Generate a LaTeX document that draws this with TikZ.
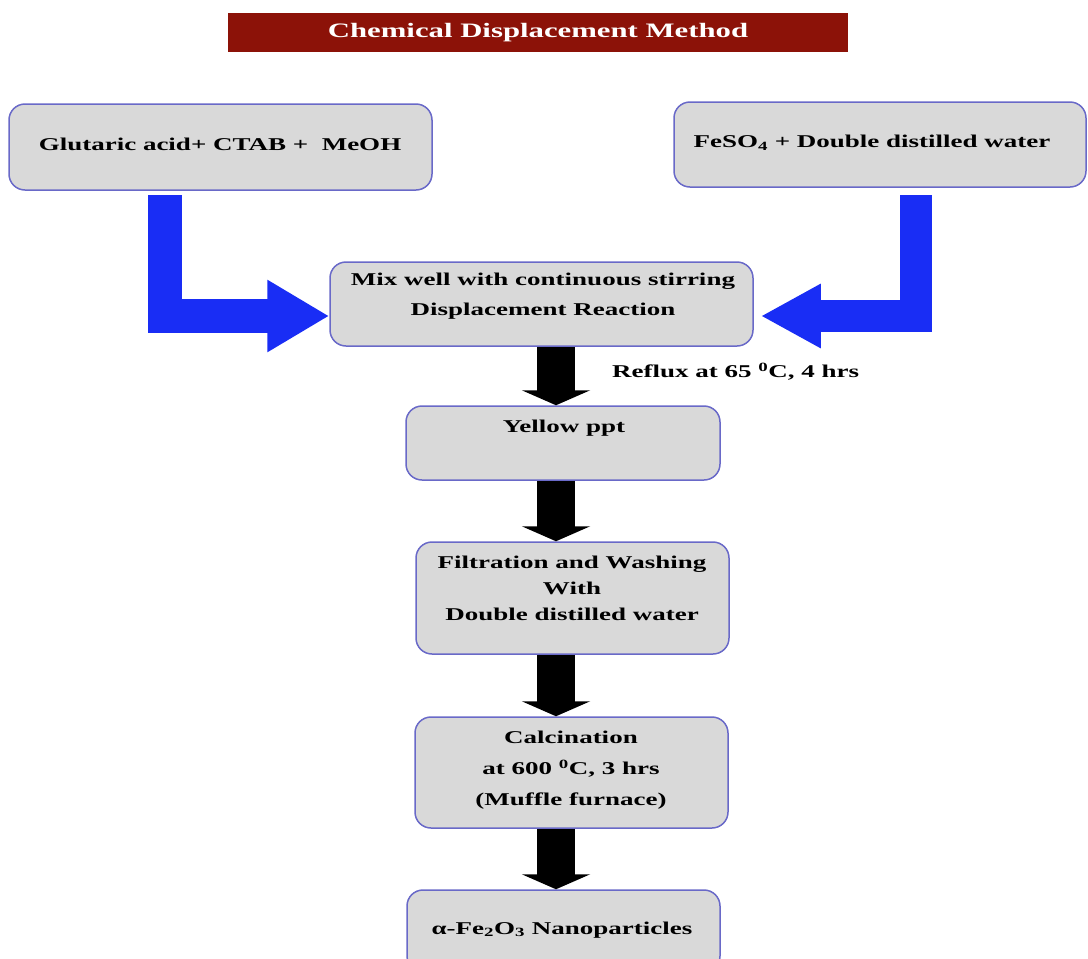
\documentclass[tikz,border=0pt]{standalone}
\usepackage{fontspec}
\setmainfont{Liberation Serif}
\newfontfamily\boxfont[FakeStretch=1.5]{Liberation Serif}
\usepackage{tikz}
\usetikzlibrary{arrows.meta}
\definecolor{boxgray}{RGB}{217,217,217}
\definecolor{boxline}{RGB}{105,105,200}
\definecolor{titlered}{RGB}{140,18,8}
\definecolor{arrblue}{RGB}{25,45,245}

\begin{document}
\begin{tikzpicture}[x=1pt,y=-1pt,line join=miter]
    \tikzstyle{box}=[draw=boxline,line width=1.5pt,fill=boxgray,rounded corners=16pt,inner sep=0pt]
    \tikzstyle{txt}=[font=\boxfont\bfseries\fontsize{18}{26}\selectfont,align=center,inner sep=0pt]
    \tikzstyle{bluearr}=[draw=arrblue,line width=34pt,-{Triangle[length=62pt,width=68pt]}]
    \tikzstyle{blkarr}=[draw=black,line width=38pt,-{Triangle[length=15pt,width=68pt]}]
    \useasboundingbox (0,0) rectangle (1088,959);
    % title bar
    \node[fill=titlered,minimum width=620pt,minimum height=39pt,inner sep=0pt,text=white,
        font=\boxfont\bfseries\fontsize{20.5}{22}\selectfont] (title) at (538,32.5) {Chemical Displacement Method};
    % boxes
    \node[box,minimum width=423pt,minimum height=86pt] (glu) at (220.5,147) {};
    \node[box,minimum width=412pt,minimum height=85pt] (feso) at (880,144.5) {};
    \node[box,minimum width=423pt,minimum height=84pt] (mix) at (541.5,304) {};
    \node[box,minimum width=314pt,minimum height=74pt] (yel) at (563,443) {};
    \node[box,minimum width=313pt,minimum height=112pt] (filt) at (572.5,598) {};
    \node[box,minimum width=313pt,minimum height=111pt] (calc) at (571.5,772.5) {};
    \node[box,minimum width=313pt,minimum height=82pt] (fin) at (563.5,931) {};
    % texts
    \node[txt] (glutx) at (220,144) {Glutaric acid+ CTAB + \ MeOH};
    \node[txt] (fesotx) at (872,143) {FeSO\textsubscript{4} + Double distilled water};
    \node[txt] (mixtx) at (543,296) {Mix well with continuous stirring\\[4pt]Displacement Reaction};
    \node[txt,anchor=west] (reftx) at (612,372) {Reflux at 65 \textsuperscript{0}C, 4 hrs};
    \node[txt] (yeltx) at (564,428) {Yellow ppt};
    \node[txt] (filttx) at (572,588) {Filtration and Washing\\With\\Double distilled water};
    \node[txt] (calctx) at (571,770) {Calcination\\[5pt]at 600 \textsuperscript{0}C, 3 hrs\\[5pt](Muffle furnace)};
    \node[txt] (fintx) at (562,930) {α-Fe\textsubscript{2}O\textsubscript{3} Nanoparticles};
    % blue arrows into the mixing step
    \coordinate (gluarm) at (165,195);
    \coordinate (fesoarm) at (916,195);
    \draw[bluearr] (gluarm) |- ([yshift=-12pt]mix.west);
    \draw[bluearr,line width=32pt,-{Triangle[length=60pt,width=60pt]}] (fesoarm) |- ([xshift=7pt,yshift=-12pt]mix.east);
    % black arrows down the column
    \coordinate (axis) at (556,0);
    \draw[blkarr] (mix.south -| axis) -- (yel.north -| axis);
    \draw[blkarr] (yel.south -| axis) -- (filt.north -| axis);
    \draw[blkarr] (filt.south -| axis) -- (calc.north -| axis);
    \draw[blkarr] (calc.south -| axis) -- (fin.north -| axis);
\end{tikzpicture}
\end{document}
